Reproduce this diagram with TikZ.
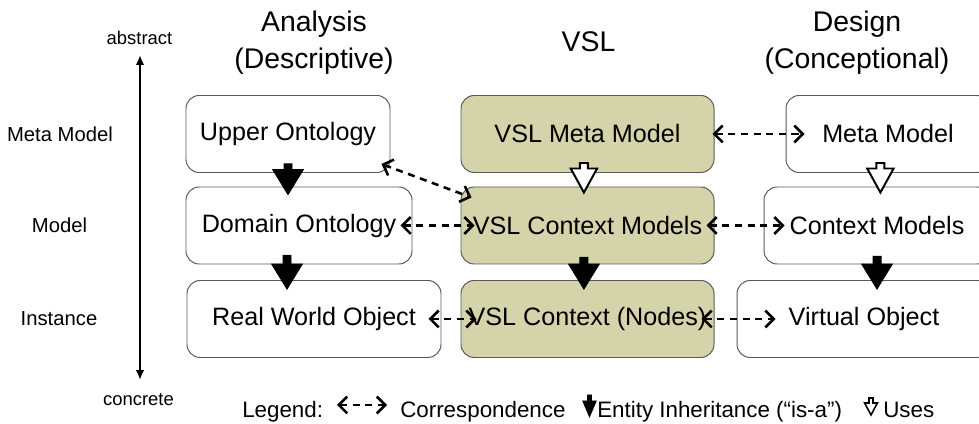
\documentclass[tikz,border=0pt]{standalone}
\usepackage{fontspec}
\setmainfont{Liberation Sans}
\usepackage{tikz}
\usetikzlibrary{arrows.meta, calc, positioning}
\definecolor{vslolive}{RGB}{212,211,170}
\definecolor{boxgray}{RGB}{90,90,90}

\begin{document}
\begin{tikzpicture}[
  box/.style={draw=boxgray, line width=0.7pt, rounded corners=0.33cm, minimum height=1.925cm, inner sep=0pt, font=\fontsize{17.9}{20}\selectfont},
  vslbox/.style={box, fill=vslolive},
  head/.style={align=center, font=\fontsize{20.2}{26.2}\selectfont},
  side/.style={font=\fontsize{14.4}{17}\selectfont},
  tiny/.style={font=\fontsize{13.1}{15}\selectfont},
  legendtxt/.style={inner sep=0pt, font=\fontsize{15.9}{19}\selectfont},
  corr/.style={{Straight Barb[length=6pt,width=12pt]}-{Straight Barb[length=6pt,width=12pt]}, line width=1.8pt, dash pattern=on 5pt off 4pt},
  block/.style n args={3}{to path={let \p1=(\tikztostart), \p2=(\tikztotarget) in
      (\x1-#1,\y1) -- (\x1-#1,\y2+#3) -- (\x1-#2,\y2+#3) -- (\x1,\y2) -- (\x1+#2,\y2+#3) -- (\x1+#1,\y2+#3) -- (\x1+#1,\y1) -- cycle}},
  isa/.style={block={0.1cm}{0.38cm}{0.62cm}, fill=black, line width=0.7pt, line join=miter},
  uses/.style={block={0.1cm}{0.33cm}{0.6cm}, draw=black, fill=white, line width=1.4pt, line join=miter},
  isamini/.style={block={0.05cm}{0.17cm}{0.4cm}, fill=black, line width=0.5pt, line join=miter},
  usesmini/.style={block={0.05cm}{0.16cm}{0.3cm}, draw=black, fill=white, line width=1.1pt, line join=miter},
]
\useasboundingbox (0,0) rectangle (24.475,10.6);

% column heads
\node[head] (hana) at (7.85,9.525) {Analysis\\(Descriptive)};
\node[head] (hvsl) at (14.7125,9.55) {VSL};
\node[head] (hdes) at (21.425,9.525) {Design\\(Conceptional)};

% levels
\node[side] (lmeta) at (1.5,7.25) {Meta Model};
\node[side] (lmodel) at (1.4875,4.9625) {Model};
\node[side] (linst) at (1.475,2.625) {Instance};
\node[tiny] (labs) at (3.4875,9.65) {abstract};
\node[tiny] (lcon) at (3.4625,0.6) {concrete};
\coordinate (axtop) at (3.5,9.225);
\coordinate (axbot) at (3.5,1.1);
\draw[{Latex[length=7pt,width=6pt]}-{Latex[length=7pt,width=6pt]}, line width=1.4pt] (axbot) -- (axtop);

% boxes
\node[box, minimum width=5.1cm] (uo) at (7.2,7.25) {Upper Ontology};
\node[box, minimum width=5.65cm] (do) at (7.475,4.9625) {Domain Ontology};
\node[box, minimum width=6.35cm] (rwo) at (7.85,2.625) {Real World Object};
\node[vslbox, minimum width=6.325cm] (vmm) at (14.6875,7.25) {VSL Meta Model};
\node[vslbox, minimum width=6.325cm] (vcm) at (14.6875,4.9625) {VSL Context Models};
\node[vslbox, minimum width=6.325cm] (vcn) at (14.6875,2.625) {VSL Context (Nodes)};
\node[box, minimum width=5.1cm] (mm) at (22.2,7.25) {Meta Model};
\node[box, minimum width=5.65cm] (cm) at (21.925,4.9625) {Context Models};
\node[box, minimum width=6.35cm] (vo) at (21.6,2.625) {Virtual Object};

% correspondences
\draw[corr] ([shift={(-0.225,0.225)}]uo.south east) -- ([shift={(0.275,-0.275)}]vcm.north west);
\draw[corr] ([xshift=-0.3cm]do.east) -- ([xshift=0.35cm]vcm.west);
\draw[corr] ([xshift=-0.325cm]rwo.east) -- ([xshift=0.4cm]vcn.west);
\draw[corr] ([xshift=-0.05cm]vmm.east) -- ([xshift=0.475cm]mm.west);
\draw[corr] ([xshift=-0.2cm]vcm.east) -- ([xshift=0.525cm]cm.west);
\draw[corr] ([xshift=-0.325cm]vcn.east) -- ([xshift=0.975cm]vo.west);

% inheritance and uses
\draw[isa] ([yshift=0.225cm]uo.south) to ([yshift=-0.2cm]do.north);
\draw[isa] ([xshift=-0.3cm,yshift=0.225cm]do.south) to ([yshift=-0.225cm]rwo.north);
\draw[uses] ([xshift=-0.09cm,yshift=0.25cm]vmm.south) to ([yshift=-0.15cm]vcm.north);
\draw[isa] ([xshift=-0.09cm,yshift=0.175cm]vcm.south) to ([yshift=-0.225cm]vcn.north);
\draw[uses] ([xshift=-0.19cm,yshift=0.25cm]mm.south) to ([yshift=-0.15cm]cm.north);
\draw[isa] ([yshift=0.2cm]cm.south) to ([yshift=-0.225cm]vo.north);

% legend
\node[legendtxt, anchor=base west] (leg) at (6.05,0.17) {Legend:};
\coordinate (lca) at (8.425,0.475);
\coordinate (lcb) at (9.675,0.475);
\draw[corr] (lca) -- (lcb);
\node[legendtxt, anchor=base west] (lcorr) at (10,0.17) {Correspondence};
\coordinate (lia) at (14.7375,0.725);
\coordinate (lib) at (14.7375,0.175);
\draw[isamini] (lia) to (lib);
\node[legendtxt, anchor=base west] (lisa) at (14.925,0.17) {Entity Inheritance (``is-a'')};
\coordinate (lua) at (21.775,0.65);
\coordinate (lub) at (21.775,0.225);
\draw[usesmini] (lua) to (lub);
\node[legendtxt, anchor=base west] (luses) at (22.075,0.17) {Uses};

\end{tikzpicture}
\end{document}
